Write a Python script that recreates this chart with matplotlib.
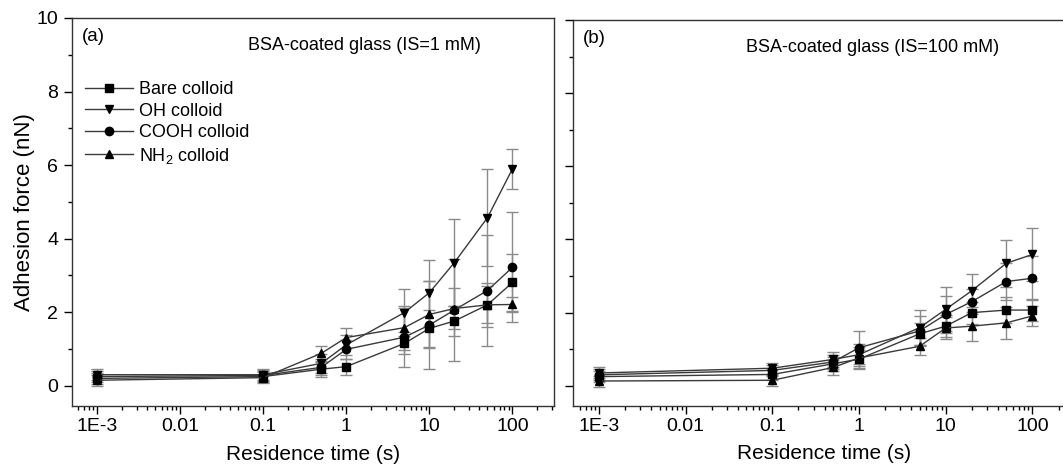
import matplotlib
matplotlib.use("Agg")
import matplotlib.pyplot as plt
from matplotlib.ticker import FixedLocator, MultipleLocator, LogLocator, NullFormatter

plt.rcParams['font.family'] = ['Liberation Sans', 'DejaVu Sans']
plt.rcParams['mathtext.default'] = 'regular'

times = [1e-3, 0.1, 0.5, 1, 5, 10, 20, 50, 100]
labels = ['Bare colloid', 'OH colloid', 'COOH colloid', 'NH$_2$ colloid']
markers = ['s', 'v', 'o', '^']

# panel (a): IS = 1 mM
a_bare = [0.20, 0.25, 0.45, 0.52, 1.15, 1.56, 1.76, 2.20, 2.81]
a_oh = [0.30, 0.30, 0.61, 1.11, 1.99, 2.53, 3.35, 4.57, 5.90]
a_cooh = [0.25, 0.28, 0.50, 0.99, 1.32, 1.65, 2.06, 2.59, 3.22]
a_nh2 = [0.15, 0.22, 0.88, 1.31, 1.58, 1.94, 2.10, 2.20, 2.21]
a_bare_err = [0.15, 0.15, 0.20, 0.22, 0.30, 0.50, 0.40, 0.60, 0.77]
a_oh_err = [0.15, 0.15, 0.25, 0.27, 0.63, 0.90, 1.19, 1.32, 0.55]
a_cooh_err = [0.15, 0.15, 0.22, 0.25, 0.80, 1.20, 1.40, 1.50, 1.50]
a_nh2_err = [0.15, 0.15, 0.20, 0.27, 0.60, 0.90, 0.55, 0.50, 0.20]

# panel (b): IS = 100 mM
b_bare = [0.25, 0.31, 0.60, 0.73, 1.42, 1.63, 2.00, 2.07, 2.07]
b_oh = [0.35, 0.48, 0.72, 0.85, 1.59, 2.09, 2.60, 3.35, 3.59]
b_cooh = [0.30, 0.42, 0.65, 1.04, 1.50, 1.95, 2.30, 2.85, 2.94]
b_nh2 = [0.13, 0.15, 0.50, 0.76, 1.08, 1.58, 1.63, 1.72, 1.91]
b_bare_err = [0.15, 0.15, 0.20, 0.25, 0.30, 0.30, 0.30, 0.35, 0.30]
b_oh_err = [0.15, 0.15, 0.20, 0.30, 0.48, 0.60, 0.45, 0.64, 0.73]
b_cooh_err = [0.15, 0.15, 0.20, 0.45, 0.40, 0.50, 0.35, 0.50, 0.60]
b_nh2_err = [0.15, 0.15, 0.20, 0.30, 0.23, 0.30, 0.40, 0.43, 0.27]

panels = [
    ('(a)', 'BSA-coated glass (IS=1 mM)', 0.848,
     [a_bare, a_oh, a_cooh, a_nh2], [a_bare_err, a_oh_err, a_cooh_err, a_nh2_err]),
    ('(b)', 'BSA-coated glass (IS=100 mM)', 0.848,
     [b_bare, b_oh, b_cooh, b_nh2], [b_bare_err, b_oh_err, b_cooh_err, b_nh2_err]),
]

fig = plt.figure(figsize=(10.63, 4.66), dpi=100)
ax_a = fig.add_axes([0.0677, 0.1288, 0.4535, 0.8326])
ax_b = fig.add_axes([0.539, 0.129, 0.473, 0.828])

for ax, (tag, title, title_x, series, errs) in zip([ax_a, ax_b], panels):
    for vals, err, mk, lab in zip(series, errs, markers, labels):
        ax.errorbar(times, vals, yerr=err, fmt='none', ecolor='#8a8a8a',
                    elinewidth=1.0, capsize=4, capthick=1.0, zorder=1)
        ax.plot(times, vals, color='#3a3a3a', lw=1.0, marker=mk, ms=6,
                mfc='black', mec='black', label=lab, zorder=2)
    ax.set_xscale('log')
    ax.set_xlim(10 ** -3.3, 10 ** 2.5)
    ax.set_ylim(-0.55, 10)
    ax.xaxis.set_major_locator(FixedLocator([1e-3, 1e-2, 1e-1, 1, 10, 100]))
    ax.set_xticklabels(['1E-3', '0.01', '0.1', '1', '10', '100'])
    ax.xaxis.set_minor_locator(LogLocator(base=10, subs=range(2, 10), numticks=20))
    ax.xaxis.set_minor_formatter(NullFormatter())
    ax.yaxis.set_major_locator(MultipleLocator(2))
    ax.yaxis.set_minor_locator(MultipleLocator(1))
    ax.tick_params(which='both', direction='out', top=False, right=False,
                   labelsize=14, width=1.0)
    ax.tick_params(which='major', length=6, pad=4)
    ax.tick_params(axis='x', which='major', pad=2.5)
    ax.tick_params(which='minor', length=3)
    for sp in ax.spines.values():
        sp.set_linewidth(1.0)
        sp.set_color('#333333')
    ax.set_xlabel('Residence time (s)', fontsize=15, labelpad=7)
    ax.text(0.02, 0.975, tag, transform=ax.transAxes, fontsize=13.5, va='top', ha='left')
    ax.text(title_x, 0.93, title, transform=ax.transAxes, fontsize=13,
            va='center', ha='right')

ax_a.set_ylabel('Adhesion force (nN)', fontsize=16, labelpad=1)
ax_b.set_yticklabels([])

ax_a.legend(loc='upper left', bbox_to_anchor=(0.0, 0.87), frameon=False,
            fontsize=13, handlelength=2.7, handletextpad=0.3, labelspacing=0.25,
            borderaxespad=0.3)

fig.savefig('out.png', dpi=100)
